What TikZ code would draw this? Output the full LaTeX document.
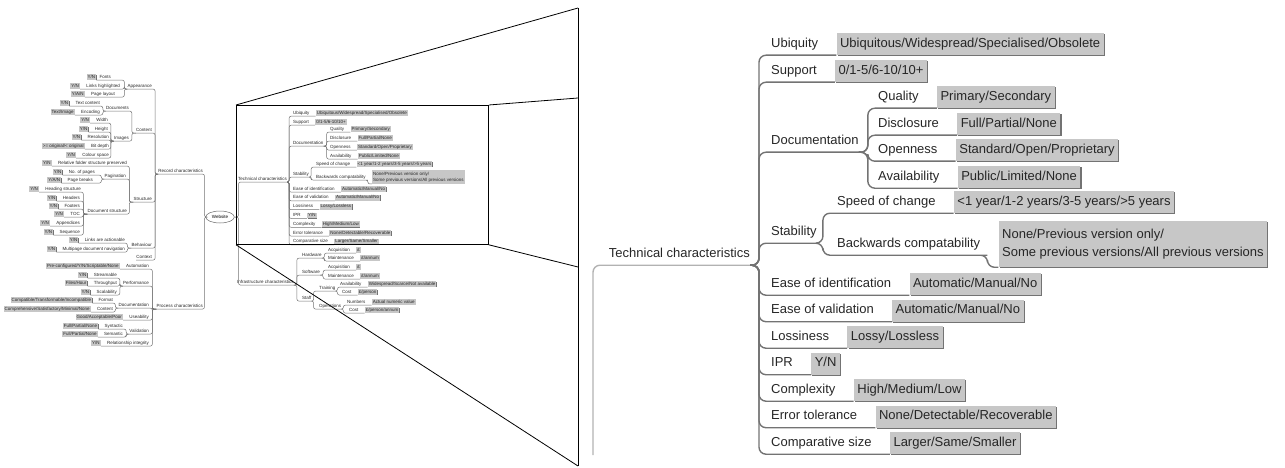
\documentclass[tikz,border=0pt]{standalone}
\usepackage{fontspec}
\setmainfont{Liberation Sans}
\usepackage{tikz}
\usetikzlibrary{positioning,shapes.geometric,shadows}

\begin{document}
\begin{tikzpicture}[
    x=1pt, y=-1pt,
    node distance=6pt,
    lbl/.style={inner xsep=0pt,inner ysep=4.8pt,text height=9.6pt,text depth=2.8pt,
                font=\fontsize{13}{18}\selectfont,text=black!85},
    val/.style={lbl,fill=black!22,inner xsep=3.5pt,
                drop shadow={shadow xshift=1.2pt,shadow yshift=-1.2pt,fill=black!55,opacity=1}},
    mini/.style={inner xsep=0pt,inner ysep=0.75pt,text height=3.3pt,text depth=1pt,
                 font=\fontsize{4.5}{6.2}\selectfont,text=black!85},
    minival/.style={mini,fill=black!22,inner xsep=1pt,
                    drop shadow={shadow xshift=0.4pt,shadow yshift=-0.5pt,fill=black!55,opacity=1}},
    hub/.style={ellipse,draw=black!60,line width=0.5pt,inner xsep=2pt,inner ysep=1pt,
                minimum width=23pt,minimum height=12pt,font=\fontsize{4.5}{5}\selectfont},
    branch/.style={draw=black!55,line width=1.4pt,rounded corners=7pt},
    twig/.style={draw=black!55,line width=0.5pt,rounded corners=2pt},
    zoomline/.style={draw=black,line width=0.8pt}
]
\useasboundingbox (0,0) rectangle (1285,468);

\node[hub] (web) at (220,217) {Website};

\node[mini,anchor=east] (rec) at (203,171) {Record characteristics};
\node[mini,anchor=east] (app) at (152,86) {Appearance};
\node[mini,anchor=east] (fonts) at (111,77) {Fonts};
\node[minival,left=3pt of fonts] (fontsv) {Y/N};
\node[mini,anchor=east] (links) at (120,86) {Links highlighted};
\node[minival,left=of links] (linksv) {Y/N};
\node[mini,anchor=east] (layout) at (115,94) {Page layout};
\node[minival,left=of layout] (layoutv) {Y/A/N};
\node[mini,anchor=east] (cont) at (152,130) {Content};
\node[mini,anchor=east] (docs) at (129,108) {Documents};
\node[mini,anchor=east] (textc) at (100,103) {Text content};
\node[minival,left=of textc] (textcv) {Y/N};
\node[mini,anchor=east] (enc) at (100,112) {Encoding};
\node[minival,left=of enc] (encv) {Text/Image};
\node[mini,anchor=east] (imgs) at (129,138) {Images};
\node[mini,anchor=east] (wid) at (108,120) {Width};
\node[minival,left=of wid] (widv) {Y/N};
\node[mini,anchor=east] (hgt) at (108,129) {Height};
\node[minival,left=of hgt] (hgtv) {Y/N};
\node[mini,anchor=east] (reso) at (109,137) {Resolution};
\node[minival,left=of reso] (resov) {Y/N};
\node[mini,anchor=east] (bitd) at (109,146) {Bit depth};
\node[minival,left=of bitd] (bitdv) {>= original/< original};
\node[mini,anchor=east] (colsp) at (109,155) {Colour space};
\node[minival,left=of colsp] (colspv) {Y/N};
\node[mini,anchor=east] (struc) at (152,199) {Structure};
\node[mini,anchor=east] (relf) at (127,163) {Relative folder structure preserved};
\node[minival,left=of relf] (relfv) {Y/N};
\node[mini,anchor=east] (pag) at (126,176) {Pagination};
\node[mini,anchor=east] (npag) at (95,172) {No. of pages};
\node[minival,left=of npag] (npagv) {Y/N};
\node[mini,anchor=east] (pbrk) at (93,180) {Page breaks};
\node[minival,left=of pbrk] (pbrkv) {Y/A/N};
\node[mini,anchor=east] (dstr) at (127,211) {Document structure};
\node[mini,anchor=east] (hstr) at (81,189) {Heading structure};
\node[minival,left=of hstr] (hstrv) {Y/N};
\node[mini,anchor=east] (hdrs) at (80,198) {Headers};
\node[minival,left=of hdrs] (hdrsv) {Y/N};
\node[mini,anchor=east] (ftrs) at (80,206) {Footers};
\node[minival,left=of ftrs] (ftrsv) {Y/N};
\node[mini,anchor=east] (toc) at (80,214) {TOC};
\node[minival,left=of toc] (tocv) {Y/N};
\node[mini,anchor=east] (appx) at (80,223) {Appendices};
\node[minival,left=of appx] (appxv) {Y/N};
\node[mini,anchor=east] (seqn) at (80,232) {Sequence};
\node[minival,left=of seqn] (seqnv) {Y/N};
\node[mini,anchor=east] (behav) at (152,245) {Behaviour};
\node[mini,anchor=east] (lact) at (125,240) {Links are actionable};
\node[minival,left=of lact] (lactv) {Y/N};
\node[mini,anchor=east] (mpnv) at (125,249) {Multipage document navigation};
\node[minival,left=of mpnv] (mpnvv) {Y/N};
\node[mini,anchor=east] (ctx) at (152,257) {Context};

\node[mini,anchor=east] (proc) at (203,306) {Process characteristics};
\node[mini,anchor=east] (auto) at (149,266) {Automation};
\node[minival,left=of auto] (autov) {Pre-configured/Y/N/Scriptable/None};
\node[mini,anchor=east] (perf) at (149,283) {Performance};
\node[mini,anchor=east] (strm) at (117,275) {Streamable};
\node[minival,left=of strm] (strmv) {Y/N};
\node[mini,anchor=east] (thru) at (117,283) {Throughput};
\node[minival,left=of thru] (thruv) {Files/Hour};
\node[mini,anchor=east] (scal) at (117,292) {Scalability};
\node[minival,left=of scal] (scalv) {Y/N};
\node[mini,anchor=east] (pdoc) at (149,305) {Documentation};
\node[mini,anchor=east] (fmt) at (113,300) {Format};
\node[minival,left=of fmt] (fmtv) {Compatible/Transformable/Incompatible};
\node[mini,anchor=east] (pcnt) at (113,309) {Content};
\node[minival,left=of pcnt] (pcntv) {Comprehensive/Satisfactory/Minimal/None};
\node[mini,anchor=east] (usea) at (149,317) {Useability};
\node[minival,left=of usea] (useav) {Good/Acceptable/Poor};
\node[mini,anchor=east] (vali) at (149,331) {Validation};
\node[mini,anchor=east] (synt) at (123,326) {Syntactic};
\node[minival,left=of synt] (syntv) {Full/Partial/None};
\node[mini,anchor=east] (sema) at (123,334) {Semantic};
\node[minival,left=of sema] (semav) {Full/Partial/None};
\node[mini,anchor=east] (rint) at (149,343) {Relationship integrity};
\node[minival,left=of rint] (rintv) {Y/N};

\node[mini,anchor=west] (tcs) at (238,179) {Technical characteristics};
\node[mini,anchor=west] (mubiq) at (293,113) {Ubiquity};
\node[minival,right=of mubiq] (mubiqv) {Ubiquitous/Widespread/Specialised/Obsolete};
\node[mini,anchor=west] (msupp) at (293,122) {Support};
\node[minival,right=of msupp] (msuppv) {0/1-5/6-10/10+};
\node[mini,anchor=west] (mdocu) at (293,143) {Documentation};
\node[mini,anchor=west] (mqual) at (330,129) {Quality};
\node[minival,right=of mqual] (mqualv) {Primary/Secondary};
\node[mini,anchor=west] (mdiscl) at (330,138) {Disclosure};
\node[minival,right=of mdiscl] (mdisclv) {Full/Partial/None};
\node[mini,anchor=west] (mopenn) at (330,147) {Openness};
\node[minival,right=of mopenn] (mopennv) {Standard/Open/Proprietary};
\node[mini,anchor=west] (mavail) at (330,156) {Availability};
\node[minival,right=of mavail] (mavailv) {Public/Limited/None};
\node[mini,anchor=west] (mstab) at (293,174) {Stability};
\node[mini,anchor=west] (mspeed) at (316,164) {Speed of change};
\node[minival,right=of mspeed] (mspeedv) {<1 year/1-2 years/3-5 years/>5 years};
\node[mini,anchor=west] (mbwd) at (316,177) {Backwards compatability};
\node[minival,right=of mbwd,align=left,text height={},text depth={},inner ysep=1.6pt] (mbwdv)
    {None/Previous version only/\\Some previous versions/All previous versions};
\node[mini,anchor=west] (meid) at (293,189) {Ease of identification};
\node[minival,right=of meid] (meidv) {Automatic/Manual/No};
\node[mini,anchor=west] (meval) at (293,197.8) {Ease of validation};
\node[minival,right=of meval] (mevalv) {Automatic/Manual/No};
\node[mini,anchor=west] (mloss) at (293,206.6) {Lossiness};
\node[minival,right=of mloss] (mlossv) {Lossy/Lossless};
\node[mini,anchor=west] (mipr) at (293,215.4) {IPR};
\node[minival,right=of mipr] (miprv) {Y/N};
\node[mini,anchor=west] (mcplx) at (293,224.2) {Complexity};
\node[minival,right=of mcplx] (mcplxv) {High/Medium/Low};
\node[mini,anchor=west] (merrt) at (293,233) {Error tolerance};
\node[minival,right=of merrt] (merrtv) {None/Detectable/Recoverable};
\node[mini,anchor=west] (mcsize) at (293,241.8) {Comparative size};
\node[minival,right=of mcsize] (mcsizev) {Larger/Same/Smaller};

\node[mini,anchor=west] (infs) at (237,282) {Infrastructure characteristics};
\node[mini,anchor=west] (hw) at (302,255) {Hardware};
\node[mini,anchor=west] (hwacq) at (328,250) {Acquisition};
\node[minival,right=of hwacq] (hwacqv) {£};
\node[mini,anchor=west] (hwmnt) at (328,258) {Maintenance};
\node[minival,right=of hwmnt] (hwmntv) {£/annum};
\node[mini,anchor=west] (sw) at (302,272) {Software};
\node[mini,anchor=west] (swacq) at (328,267) {Acquisition};
\node[minival,right=of swacq] (swacqv) {£};
\node[mini,anchor=west] (swmnt) at (328,276) {Maintenance};
\node[minival,right=of swmnt] (swmntv) {£/annum};
\node[mini,anchor=west] (staff) at (302,298) {Staff};
\node[mini,anchor=west] (train) at (319,288) {Training};
\node[mini,anchor=west] (tavail) at (340,284) {Availability};
\node[minival,right=of tavail] (tavailv) {Widespread/Scarce/Not available};
\node[mini,anchor=west] (tcost) at (342,292) {Cost};
\node[minival,right=of tcost] (tcostv) {£/person};
\node[mini,anchor=west] (ops) at (319,306) {Operations};
\node[mini,anchor=west] (onum) at (347,302) {Numbers};
\node[minival,right=of onum] (onumv) {Actual numeric value};
\node[mini,anchor=west] (ocost) at (349,310) {Cost};
\node[minival,right=of ocost] (ocostv) {£/person/annum};

\draw[twig] (web.west) -- ++(-1,0) |- (rec.south west);
\draw[twig] (web.west) -- ++(-1,0) |- (proc.south west);
\draw[twig] (web.east) -- ++(4,0) |- (tcs.south east);
\draw[twig] (web.east) -- ++(4,0) |- (infs.south east);

\foreach \k in {app,cont,struc,behav,ctx}
  \draw[twig] (rec.south west) -- ++(-3,0) |- (\k.south west);
\foreach \k in {fontsv,linksv,layoutv}
  \draw[twig] (app.south west) -- ++(-3,0) |- (\k.south east);
\foreach \k in {docs,imgs}
  \draw[twig] (cont.south west) -- ++(-4,0) |- (\k.south west);
\foreach \k in {textcv,encv}
  \draw[twig] (docs.south west) -- ++(-3,0) |- (\k.south east);
\foreach \k in {widv,hgtv,resov,bitdv,colspv}
  \draw[twig] (imgs.south west) -- ++(-3,0) |- (\k.south east);
\draw[twig] (struc.south west) -- ++(-4,0) |- (relfv.south east);
\foreach \k in {pag,dstr}
  \draw[twig] (struc.south west) -- ++(-4,0) |- (\k.south west);
\foreach \k in {npagv,pbrkv}
  \draw[twig] (pag.south west) -- ++(-3,0) |- (\k.south east);
\foreach \k in {hstrv,hdrsv,ftrsv,tocv,appxv,seqnv}
  \draw[twig] (dstr.south west) -- ++(-4,0) |- (\k.south east);
\foreach \k in {lactv,mpnvv}
  \draw[twig] (behav.south west) -- ++(-4,0) |- (\k.south east);

\foreach \k in {autov,useav,rintv}
  \draw[twig] (proc.south west) -- ++(-4,0) |- (\k.south east);
\foreach \k in {perf,pdoc,vali}
  \draw[twig] (proc.south west) -- ++(-4,0) |- (\k.south west);
\foreach \k in {strmv,thruv,scalv}
  \draw[twig] (perf.south west) -- ++(-3,0) |- (\k.south east);
\foreach \k in {fmtv,pcntv}
  \draw[twig] (pdoc.south west) -- ++(-3,0) |- (\k.south east);
\foreach \k in {syntv,semav}
  \draw[twig] (vali.south west) -- ++(-3,0) |- (\k.south east);

\foreach \k in {mubiqv,msuppv,meidv,mevalv,mlossv,miprv,mcplxv,merrtv,mcsizev}
  \draw[twig] (tcs.south east) -- ++(2,0) |- (\k.south west);
\foreach \k in {mdocu,mstab}
  \draw[twig] (tcs.south east) -- ++(2,0) |- (\k.south east);
\foreach \k in {mqualv,mdisclv,mopennv,mavailv}
  \draw[twig] (mdocu.south east) -- ++(3,0) |- (\k.south west);
\draw[twig] (mstab.south east) -- ++(2,0) |- (mspeedv.south west);
\draw[twig] (mstab.south east) -- ++(2,0) |- (mbwd.south east) -- ++(2,0) |- (mbwdv.south west);

\foreach \k in {hw,sw,staff}
  \draw[twig] (infs.south east) -- ++(3,0) |- (\k.south east);
\foreach \k in {hwacqv,hwmntv}
  \draw[twig] (hw.south east) -- ++(2.5,0) |- (\k.south west);
\foreach \k in {swacqv,swmntv}
  \draw[twig] (sw.south east) -- ++(3,0) |- (\k.south west);
\foreach \k in {train,ops}
  \draw[twig] (staff.south east) -- ++(2,0) |- (\k.south east);
\foreach \k in {tavailv,tcostv}
  \draw[twig] (train.south east) -- ++(2,0) |- (\k.south west);
\foreach \k in {onumv,ocostv}
  \draw[twig] (ops.south east) -- ++(2,0) |- (\k.south west);

\node[lbl,anchor=east] (tc) at (750,254) {Technical characteristics};
\coordinate (tcin) at (593,455);
\node[lbl,anchor=west] (ubiq) at (771,44) {Ubiquity};
\node[val,right=18pt of ubiq] (ubiqv) {Ubiquitous/Widespread/Specialised/Obsolete};
\node[lbl,anchor=west] (supp) at (771,71) {Support};
\node[val,right=18pt of supp] (suppv) {0/1-5/6-10/10+};
\node[lbl,anchor=west] (docu) at (771,141) {Documentation};
\node[lbl,anchor=west] (qual) at (878,97) {Quality};
\node[val,right=18pt of qual] (qualv) {Primary/Secondary};
\node[lbl,anchor=west] (discl) at (878,124) {Disclosure};
\node[val,right=18pt of discl] (disclv) {Full/Partial/None};
\node[lbl,anchor=west] (openn) at (878,150) {Openness};
\node[val,right=18pt of openn] (opennv) {Standard/Open/Proprietary};
\node[lbl,anchor=west] (avail) at (878,177) {Availability};
\node[val,right=18pt of avail] (availv) {Public/Limited/None};
\node[lbl,anchor=west] (stab) at (771,232) {Stability};
\node[lbl,anchor=west] (speed) at (837,202) {Speed of change};
\node[val,right=18pt of speed] (speedv) {<1 year/1-2 years/3-5 years/>5 years};
\node[lbl,anchor=west] (bwd) at (837,244) {Backwards compatability};
\node[val,right=18pt of bwd,align=left,text height={},text depth={},inner ysep=8pt] (bwdv)
    {None/Previous version only/\\Some previous versions/All previous versions};
\node[lbl,anchor=west] (eid) at (771,284) {Ease of identification};
\node[val,right=18pt of eid] (eidv) {Automatic/Manual/No};
\node[lbl,anchor=west] (eval) at (771,310.5) {Ease of validation};
\node[val,right=18pt of eval] (evalv) {Automatic/Manual/No};
\node[lbl,anchor=west] (loss) at (771,337) {Lossiness};
\node[val,right=18pt of loss] (lossv) {Lossy/Lossless};
\node[lbl,anchor=west] (ipr) at (771,363.5) {IPR};
\node[val,right=18pt of ipr] (iprv) {Y/N};
\node[lbl,anchor=west] (cplx) at (771,390) {Complexity};
\node[val,right=18pt of cplx] (cplxv) {High/Medium/Low};
\node[lbl,anchor=west] (errt) at (771,416.5) {Error tolerance};
\node[val,right=18pt of errt] (errtv) {None/Detectable/Recoverable};
\node[lbl,anchor=west] (csize) at (771,443) {Comparative size};
\node[val,right=18pt of csize] (csizev) {Larger/Same/Smaller};

\draw[branch,draw=black!30] (tcin) |- (tc.south east);
\foreach \k in {ubiqv,suppv,eidv,evalv,lossv,iprv,cplxv,errtv,csizev}
  \draw[branch] (tc.south east) -- ++(9,0) |- (\k.south west);
\foreach \k in {docu,stab}
  \draw[branch] (tc.south east) -- ++(9,0) |- (\k.south east);
\foreach \k in {qualv,disclv,opennv,availv}
  \draw[branch] (docu.south east) -- ++(9,0) |- (\k.south west);
\draw[branch] (stab.south east) -- ++(6,0) |- (speedv.south west);
\draw[branch] (stab.south east) -- ++(6,0) |- (bwd.south east) -- ++(7,0) |- (bwdv.south west);

\node[draw=black,line width=0.8pt,minimum width=252pt,minimum height=139pt,inner sep=0pt,
      anchor=north west] (zsrc) at (236,105) {};
\coordinate (ptop) at (578,8);
\coordinate (pupper) at (578,98);
\coordinate (plower) at (578,267);
\coordinate (pbot) at (578,466);
\draw[zoomline] (zsrc.north west) -- (ptop);
\draw[zoomline] (zsrc.north east) -- (pupper);
\draw[zoomline] (zsrc.south east) -- (plower);
\draw[zoomline] (zsrc.south west) -- (pbot);
\draw[zoomline] (ptop) -- (pbot);
\end{tikzpicture}
\end{document}
